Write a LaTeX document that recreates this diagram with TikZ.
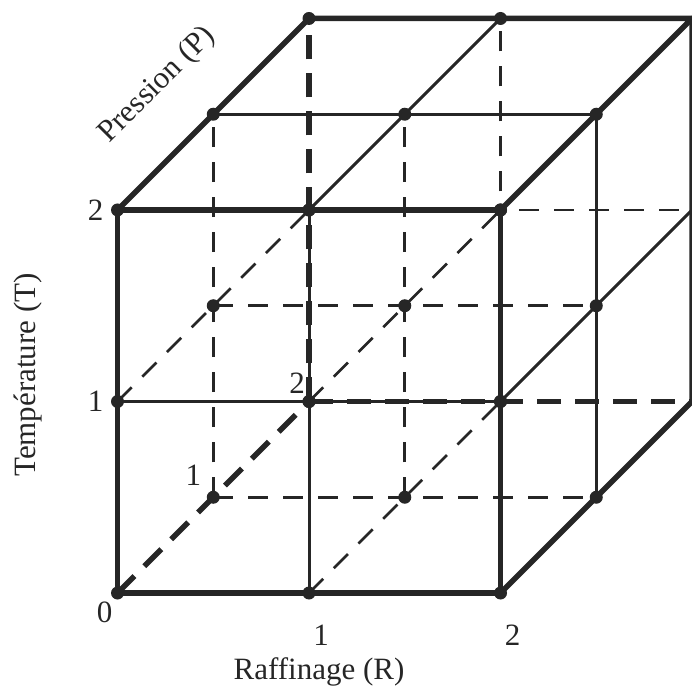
\documentclass[tikz,border=0pt]{standalone}
\usepackage{fontspec}
\setmainfont{Liberation Serif}
\usetikzlibrary{positioning}
\definecolor{ink}{gray}{0.15}

\begin{document}
\begin{tikzpicture}[
edge/.style={draw=ink, line width=5.5pt, line cap=round, line join=round},
grid/.style={draw=ink, line width=3pt},
hidedge/.style={draw=ink, line width=5.5pt, dash pattern=on 24pt off 14pt},
hidgrid/.style={draw=ink, line width=2.8pt, dash pattern=on 20pt off 15pt},
lbl/.style={inner sep=0pt, text=ink, font=\fontsize{31}{36}\selectfont}
]
\useasboundingbox (0,0) rectangle (692pt,688pt);
\begin{scope}[shift={(117.5pt,95pt)}, x=191.5pt, y=191.5pt]
% grid points (R,T,P)
\foreach \r in {0,1,2}
  \foreach \t in {0,1,2}
    \foreach \p in {0,1,2}
      \coordinate (g\r\t\p) at (\r+\p/2, \t+\p/2);
% hidden lines
\draw[hidgrid] (g001)--(g201);
\draw[hidgrid] (g011)--(g211);
\draw[hidgrid] (g012)--(g212);
\draw[hidgrid] (g001)--(g021);
\draw[hidgrid] (g101)--(g121);
\draw[hidgrid] (g102)--(g122);
\draw[hidgrid] (g010)--(g012);
\draw[hidgrid] (g100)--(g102);
\draw[hidgrid] (g110)--(g112);
\draw[hidedge] (g000)--(g002);
\draw[hidedge] (g002)--(g202);
\draw[hidedge] (g002)--(g022);
% visible lines
\draw[grid] (g100)--(g120);
\draw[grid] (g010)--(g210);
\draw[grid] (g021)--(g221);
\draw[grid] (g120)--(g122);
\draw[grid] (g201)--(g221);
\draw[grid] (g210)--(g212);
\draw[edge] (g000)--(g200)--(g220)--(g020)--cycle;
\draw[edge] (g020)--(g022)--(g222)--(g220);
\draw[edge] (g200)--(g202)--(g222);
% points
\foreach \r in {0,1,2}
  \foreach \t in {0,1,2}
    \foreach \p in {0,1,2}{
      \ifnum\numexpr2*\r+\p\relax<6 \fill[ink] (g\r\t\p) circle (6.5pt);\fi
    }
% labels
\node[lbl, below left=9pt and 5pt of g000] (r0) {0};
\node[lbl, below=32pt of g100, xshift=12pt] (r1) {1};
\node[lbl, below=32pt of g200, xshift=12pt] (r2) {2};
\node[lbl, below=12pt of r1, xshift=-2pt] (raff) {Raffinage (R)};
\node[lbl, left=14pt of g010] (t1) {1};
\node[lbl, left=14pt of g020] (t2) {2};
\node[lbl, rotate=90] (temp) at (-89pt,218pt) {Température (T)};
\node[lbl, above left=12pt and 12pt of g001] (p1) {1};
\node[lbl, above left=8pt and 4pt of g002] (p2) {2};
\node[lbl, rotate=45] (pres) at (40pt,508pt) {Pression (P)};
\end{scope}
\end{tikzpicture}
\end{document}
